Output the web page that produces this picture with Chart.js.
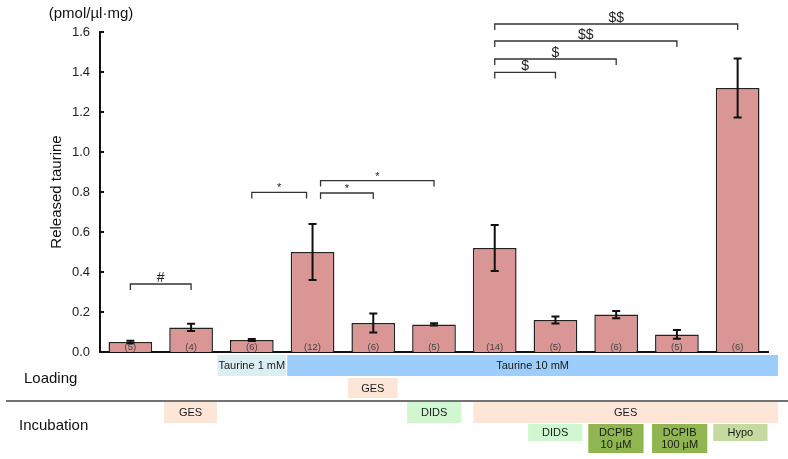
<!DOCTYPE html>
<html>
<head>
<meta charset="utf-8">
<script src="https://cdn.jsdelivr.net/npm/chart.js@4.4.0/dist/chart.umd.min.js"></script>
<style>
  html, body { margin: 0; padding: 0; background: #fff; }
  .container { width: 788px; height: 459px; }
</style>
</head>
<body>
<div class="container"><canvas id="grafico" width="788" height="459"></canvas></div>
<script>
// dados
const categorias = ['Controle', 'GES', 'Tau 1 mM', 'Tau 10 mM', 'Tau 10 mM + GES', 'Tau 10 mM / DIDS',
    'Tau 10 mM / GES', 'GES + DIDS', 'GES + DCPIB 10', 'GES + DCPIB 100', 'GES + Hypo'];
const valores = [0.050, 0.123, 0.060, 0.500, 0.145, 0.138, 0.520, 0.160, 0.187, 0.088, 1.320];
const erros = [0.006, 0.018, 0.005, 0.140, 0.048, 0.006, 0.115, 0.017, 0.018, 0.022, 0.147];
const nAmostras = ['(5)', '(4)', '(6)', '(12)', '(6)', '(5)', '(14)', '(5)', '(6)', '(5)', '(6)'];
const rotulosY = [0, 0.2, 0.4, 0.6, 0.8, 1.0, 1.2, 1.4, 1.6];

// comparações: de / até (índices), nível no eixo y, símbolo
const compDe = [0, 2, 3, 3, 6, 6, 6, 6];
const compAte = [1, 3, 4, 5, 7, 8, 9, 10];
const compNivel = [0.34, 0.798, 0.795, 0.857, 1.398, 1.465, 1.555, 1.64];
const compRotulo = ['#', '*', '*', '*', '$', '$', '$$', '$$'];

const FONTE = '"Liberation Sans", Arial, sans-serif';

// faixas de condição abaixo do eixo (layout em pixels)
const faixas = [
    { de: 2, ate: 2, aj: [-4, 4], y: 355, h: 21, texto: ['Taurine 1 mM'], cor: '#dbeef4' },
    { de: 3, ate: 10, aj: [5, 10], y: 355, h: 21, texto: ['Taurine 10 mM'], cor: '#9dcdfb' },
    { de: 4, ate: 4, aj: [5, -6], y: 378, h: 20, texto: ['GES'], cor: '#fde6d8' },
    { de: 1, ate: 1, aj: [3.5, -4.5], y: 402, h: 21, texto: ['GES'], cor: '#fde6d8' },
    { de: 5, ate: 5, aj: [3.5, -3], y: 402, h: 21, texto: ['DIDS'], cor: '#d0f7cf' },
    { de: 6, ate: 10, aj: [9, 10], y: 402, h: 21, texto: ['GES'], cor: '#fde6d8' },
    { de: 7, ate: 7, aj: [3, -3.5], y: 424, h: 17, texto: ['DIDS'], cor: '#d0f7cf' },
    { de: 8, ate: 8, aj: [2.5, -3], y: 424, h: 29, texto: ['DCPIB', '10 µM'], cor: '#8fb650' },
    { de: 9, ate: 9, aj: [5.5, 0], y: 424, h: 29, texto: ['DCPIB', '100 µM'], cor: '#8fb650' },
    { de: 10, ate: 10, aj: [6, -0.5], y: 424, h: 17, texto: ['Hypo'], cor: '#c5daa0' }
];

const pluginExtras = {
    id: 'extras',
    afterDatasetsDraw(chart) {
        const ctx = chart.ctx;
        const x = chart.scales.x;
        const y = chart.scales.y;
        const meta = chart.getDatasetMeta(0);
        const area = chart.chartArea;

        ctx.save();
        // barras de erro
        ctx.strokeStyle = '#111';
        ctx.lineWidth = 2;
        meta.data.forEach((barra, i) => {
            const cx = barra.x;
            const yTopo = y.getPixelForValue(valores[i] + erros[i]);
            const yBase = y.getPixelForValue(valores[i] - erros[i]);
            ctx.beginPath();
            ctx.moveTo(cx, yTopo); ctx.lineTo(cx, yBase);
            ctx.moveTo(cx - 4, yTopo); ctx.lineTo(cx + 4, yTopo);
            ctx.moveTo(cx - 4, yBase); ctx.lineTo(cx + 4, yBase);
            ctx.stroke();
        });

        // n de cada barra
        ctx.fillStyle = '#444';
        ctx.font = '9.5px ' + FONTE;
        ctx.textAlign = 'center';
        ctx.textBaseline = 'middle';
        meta.data.forEach((barra, i) => {
            ctx.fillText(nAmostras[i], barra.x, area.bottom - 5);
        });

        // marcas do eixo y (para dentro)
        ctx.strokeStyle = '#111';
        ctx.lineWidth = 2;
        rotulosY.forEach(v => {
            const py = y.getPixelForValue(v);
            ctx.beginPath();
            ctx.moveTo(area.left, py);
            ctx.lineTo(area.left + 4, py);
            ctx.stroke();
        });

        // colchetes de significância
        ctx.strokeStyle = '#333';
        ctx.lineWidth = 1.3;
        ctx.fillStyle = '#222';
        ctx.textBaseline = 'alphabetic';
        compDe.forEach((de, k) => {
            let x1 = x.getPixelForValue(de);
            let x2 = x.getPixelForValue(compAte[k]);
            if (compRotulo[k] === '*') {
                if (de === 2) x2 -= 6; else x1 += 8;
            }
            const py = y.getPixelForValue(compNivel[k]);
            ctx.beginPath();
            ctx.moveTo(x1, py + 6); ctx.lineTo(x1, py); ctx.lineTo(x2, py); ctx.lineTo(x2, py + 6);
            ctx.stroke();
            ctx.font = (compRotulo[k] === '*' ? '11px ' : '14px ') + FONTE;
            ctx.fillText(compRotulo[k], (x1 + x2) / 2, py - (compRotulo[k] === '*' ? 1 : 2));
        });

        // unidade
        ctx.font = '15px ' + FONTE;
        ctx.fillStyle = '#111';
        ctx.textBaseline = 'middle';
        ctx.fillText('(pmol/µl·mg)', 91, 14);

        // faixas de condição
        const meia = x.width / categorias.length / 2;
        faixas.forEach(f => {
            const xa = x.getPixelForValue(f.de) - meia + f.aj[0];
            const xb = x.getPixelForValue(f.ate) + meia + f.aj[1];
            ctx.fillStyle = f.cor;
            ctx.fillRect(xa, f.y, xb - xa, f.h);
            ctx.fillStyle = '#1a1a1a';
            ctx.font = '11px ' + FONTE;
            const meio = f.y + f.h / 2;
            if (f.texto.length === 1) {
                ctx.fillText(f.texto[0], (xa + xb) / 2, meio + 0.5);
            } else {
                ctx.fillText(f.texto[0], (xa + xb) / 2, meio - 5.5);
                ctx.fillText(f.texto[1], (xa + xb) / 2, meio + 6);
            }
        });

        // rótulos das linhas e separador
        ctx.font = '15px ' + FONTE;
        ctx.textAlign = 'left';
        ctx.fillStyle = '#111';
        ctx.fillText('Loading', 24, 379);
        ctx.fillText('Incubation', 19, 426);
        ctx.strokeStyle = '#444';
        ctx.lineWidth = 1.5;
        ctx.beginPath();
        ctx.moveTo(6, 401);
        ctx.lineTo(788, 401);
        ctx.stroke();
        ctx.restore();
    }
};

const data = {
    labels: categorias,
    datasets: [{
        label: 'Released taurine',
        data: valores,
        backgroundColor: '#d99694',
        borderColor: '#222',
        borderWidth: 1.5,
        barPercentage: 0.72,
        categoryPercentage: 1
    }]
};

const config = {
    type: 'bar',
    data: data,
    options: {
        responsive: false,
        animation: false,
        layout: {
            padding: { top: 32, right: 20, bottom: 107, left: 0 }
        },
        plugins: {
            legend: { display: false },
            tooltip: { enabled: false }
        },
        scales: {
            x: {
                grid: { display: false, drawTicks: false },
                border: { color: '#111', width: 2 },
                ticks: { display: false },
                afterFit: s => { s.height = 0; }
            },
            y: {
                min: 0,
                max: 1.6,
                afterBuildTicks: s => { s.ticks = rotulosY.map(v => ({ value: v })); },
                afterFit: s => { s.width = 100; },
                grid: { display: false, drawTicks: false },
                border: { color: '#111', width: 2 },
                ticks: {
                    color: '#222',
                    padding: 10,
                    font: { family: FONTE, size: 13 },
                    callback: v => v.toFixed(1)
                },
                title: {
                    display: true,
                    text: 'Released taurine',
                    color: '#111',
                    font: { family: FONTE, size: 15 },
                    padding: { top: 48, bottom: 0 }
                }
            }
        }
    },
    plugins: [pluginExtras]
};

new Chart(document.getElementById('grafico'), config);
</script>
</body>
</html>
